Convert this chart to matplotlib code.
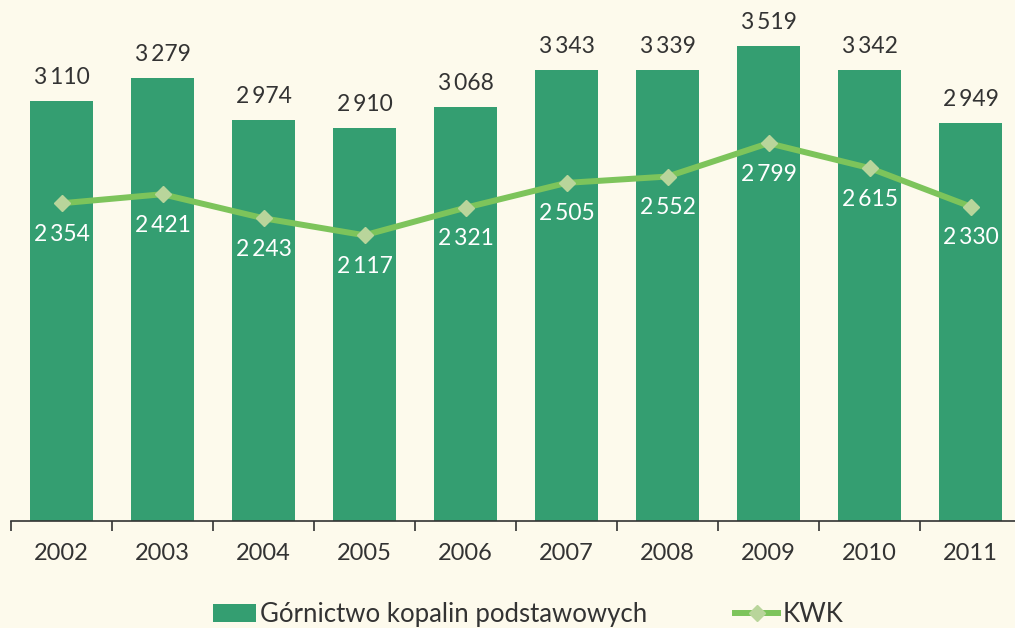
import matplotlib.pyplot as plt
import numpy as np

years = ['2002', '2003', '2004', '2005', '2006', '2007', '2008', '2009', '2010', '2011']
gornictwo = [3110, 3279, 2974, 2910, 3068, 3343, 3339, 3519, 3342, 2949]
kwk = [2354, 2421, 2243, 2117, 2321, 2505, 2552, 2799, 2615, 2330]

bg = '#fdfaec'
bar_color = '#349e71'
line_color = '#7dc45b'
marker_color = '#b9d59b'
text_color = '#333333'

plt.rcParams['font.family'] = ['Lato', 'DejaVu Sans']


def fmt(v):
    s = f'{v:,}'
    return s.replace(',', '\u2009')


fig = plt.figure(figsize=(10.15, 6.28), dpi=100, facecolor=bg)
ax = fig.add_axes([11 / 1015, 107 / 628, 1010 / 1015, 521 / 628])
ax.set_facecolor(bg)

x = np.arange(len(years))
bars = ax.bar(x, gornictwo, width=0.63, color=bar_color,
              label='Górnictwo kopalin podstawowych', zorder=2)
line, = ax.plot(x, kwk, color=line_color, linewidth=4.3, marker='D', markersize=8,
                markerfacecolor=marker_color, markeredgecolor=marker_color,
                label='KWK', zorder=3)

# value labels
for xi, v in zip(x, gornictwo):
    ax.annotate(fmt(v), (xi, v), xytext=(0, 13), textcoords='offset pixels',
                ha='center', va='bottom', fontsize=16.5, color=text_color)
for xi, v in zip(x, kwk):
    ax.annotate(fmt(v), (xi, v), xytext=(0, -31), textcoords='offset pixels',
                ha='center', va='center', fontsize=16.5, color='white', zorder=4)

ax.set_xlim(-0.5, 9.5)
ax.set_ylim(0, 3860)
ax.set_xticks(x)
ax.set_xticklabels(years, fontsize=17, color=text_color)
ax.set_xticks(np.arange(-0.5, 10, 1), minor=True)
ax.tick_params(axis='x', which='major', length=0, pad=16)
ax.tick_params(axis='x', which='minor', length=7, width=1.2, color=text_color)
ax.set_yticks([])
for side in ['top', 'right', 'left']:
    ax.spines[side].set_visible(False)
ax.spines['bottom'].set_color(text_color)
ax.spines['bottom'].set_linewidth(1.2)

fig.legend(handles=[bars, line], loc='center', bbox_to_anchor=(0.52, 0.022),
           ncol=2, frameon=False, prop={'size': 18.5},
           handlelength=1.7, handletextpad=0.15, columnspacing=3.4,
           labelcolor=text_color)

fig.savefig('out.png', dpi=100, facecolor=bg)
